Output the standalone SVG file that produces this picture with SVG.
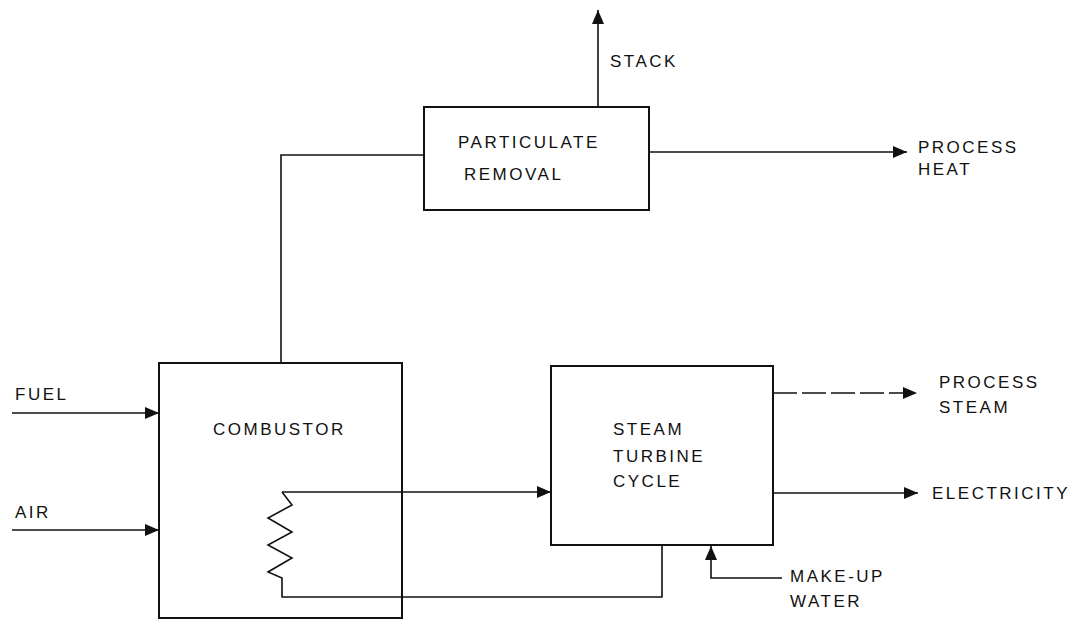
<svg xmlns="http://www.w3.org/2000/svg" width="1087" height="624" viewBox="0 0 1087 624">
<style>
.box{fill:none;stroke:#111;stroke-width:2}
.ln{fill:none;stroke:#111;stroke-width:1.6}
.dash{stroke-dasharray:24 5}
.t{font-family:"Liberation Sans",Arial,sans-serif;font-size:17px;letter-spacing:2.5px;fill:#111}
</style>
<defs>
<marker id="ah" markerUnits="userSpaceOnUse" markerWidth="16" markerHeight="14" refX="14" refY="6" orient="auto">
<path d="M0,0 L14,6 L0,12 z" fill="#111"/>
</marker>
</defs>
<rect width="1087" height="624" fill="#fff"/>
<g id="connectors">
<path class="ln" d="M12,413 H159" marker-end="url(#ah)"/>
<path class="ln" d="M12,530 H159" marker-end="url(#ah)"/>
<path class="ln" d="M281,363 V155 H424"/>
<path class="ln" d="M598,107 V10" marker-end="url(#ah)"/>
<path class="ln" d="M650,152 H907" marker-end="url(#ah)"/>
<path class="ln" d="M282,492 H551" marker-end="url(#ah)"/>
<path class="ln" d="M282,492 L292,505 L268,518 L292,532 L268,545 L292,558 L268,572 L282,578 V597 H662 V545"/>
<path class="ln dash" d="M773,393 H917" marker-end="url(#ah)"/>
<path class="ln" d="M773,493 H918" marker-end="url(#ah)"/>
<path class="ln" d="M782,578 H711 V546" marker-end="url(#ah)"/>
</g>
<g id="combustor">
<rect class="box" x="159" y="363" width="243" height="255"/>
<text class="t" x="213" y="435">COMBUSTOR</text>
</g>
<g id="particulate-removal">
<rect class="box" x="424" y="107" width="225" height="103"/>
<text class="t" x="458" y="148">PARTICULATE</text>
<text class="t" x="464" y="180">REMOVAL</text>
</g>
<g id="steam-turbine-cycle">
<rect class="box" x="551" y="366" width="222" height="179"/>
<text class="t" x="613" y="435">STEAM</text>
<text class="t" x="613" y="462">TURBINE</text>
<text class="t" x="613" y="487">CYCLE</text>
</g>
<g id="labels">
<text class="t" x="15" y="400">FUEL</text>
<text class="t" x="15" y="518">AIR</text>
<text class="t" x="610" y="67">STACK</text>
<text class="t" x="918" y="153">PROCESS</text>
<text class="t" x="918" y="175">HEAT</text>
<text class="t" x="939" y="388">PROCESS</text>
<text class="t" x="939" y="413">STEAM</text>
<text class="t" x="932" y="499">ELECTRICITY</text>
<text class="t" x="790" y="582">MAKE-UP</text>
<text class="t" x="790" y="607">WATER</text>
</g>
</svg>
